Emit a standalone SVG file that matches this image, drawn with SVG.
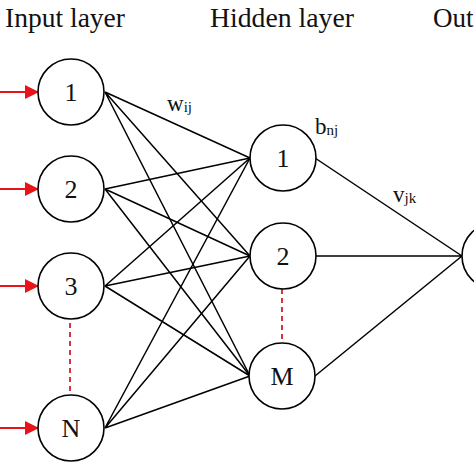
<svg xmlns="http://www.w3.org/2000/svg" width="474" height="474" viewBox="0 0 474 474">
<defs>
<marker id="ah" markerWidth="14" markerHeight="14" refX="13" refY="7" orient="auto" markerUnits="userSpaceOnUse">
<path d="M0,0 L14,7 L0,14 Z" fill="#e8141a"/>
</marker>
<style>
.node{fill:#fff;stroke:#000;stroke-width:1.6}
.lbl{font-family:"Liberation Serif",serif;font-size:26px;fill:#111;text-anchor:middle}
.title{font-family:"Liberation Serif",serif;font-size:27px;fill:#111}
.var{font-family:"Liberation Serif",serif;font-size:23px;fill:#111}
.sub{font-size:15px}
.edge{stroke:#000;stroke-width:1.5;fill:none}
.in{stroke:#e8141a;stroke-width:2.2;fill:none}
.dash{stroke:#d4202a;stroke-width:1.8;stroke-dasharray:5,4;fill:none}
</style>
</defs>
<rect width="474" height="474" fill="#fff"/>
<text class="title" x="5" y="27" textLength="120" lengthAdjust="spacingAndGlyphs">Input layer</text>
<text class="title" x="210" y="27" textLength="144" lengthAdjust="spacingAndGlyphs">Hidden layer</text>
<text class="title" x="433" y="27">Out</text>
<g id="connectors">
<path class="in" d="M0,92 H38" marker-end="url(#ah)"/>
<path class="in" d="M0,189 H38" marker-end="url(#ah)"/>
<path class="in" d="M0,286 H38" marker-end="url(#ah)"/>
<path class="in" d="M0,428 H38" marker-end="url(#ah)"/>
<path class="edge" d="M105,92 L250,158 M105,92 L250,256 M105,92 L250,376"/>
<path class="edge" d="M105,189 L250,158 M105,189 L250,256 M105,189 L250,376"/>
<path class="edge" d="M105,286 L250,158 M105,286 L250,256 M105,286 L250,376"/>
<path class="edge" d="M105,428 L250,158 M105,428 L250,256 M105,428 L250,376"/>
<path class="edge" d="M315,158 L462,256 M315,256 L462,256 M315,376 L462,256"/>
<path class="dash" d="M70,314 V392"/>
<path class="dash" d="M282,289 V343"/>
</g>
<g id="in1"><circle class="node" cx="71" cy="92" r="33"/><text class="lbl" x="71" y="101">1</text></g>
<g id="in2"><circle class="node" cx="71" cy="189" r="33"/><text class="lbl" x="71" y="198">2</text></g>
<g id="in3"><circle class="node" cx="71" cy="286" r="33"/><text class="lbl" x="71" y="295">3</text></g>
<g id="inN"><circle class="node" cx="71" cy="428" r="33"/><text class="lbl" x="71" y="437">N</text></g>
<g id="h1"><circle class="node" cx="283" cy="158" r="33"/><text class="lbl" x="283" y="167">1</text></g>
<g id="h2"><circle class="node" cx="283" cy="256" r="33"/><text class="lbl" x="283" y="265">2</text></g>
<g id="hM"><circle class="node" cx="282" cy="376" r="33"/><text class="lbl" x="282" y="385">M</text></g>
<g id="out"><circle class="node" cx="495" cy="256" r="33"/></g>
<text class="var" x="167" y="111">w<tspan class="sub" dy="1">ij</tspan></text>
<text class="var" x="315" y="134">b<tspan class="sub" dy="1">nj</tspan></text>
<text class="var" x="393" y="202">v<tspan class="sub" dy="1">jk</tspan></text>
</svg>
